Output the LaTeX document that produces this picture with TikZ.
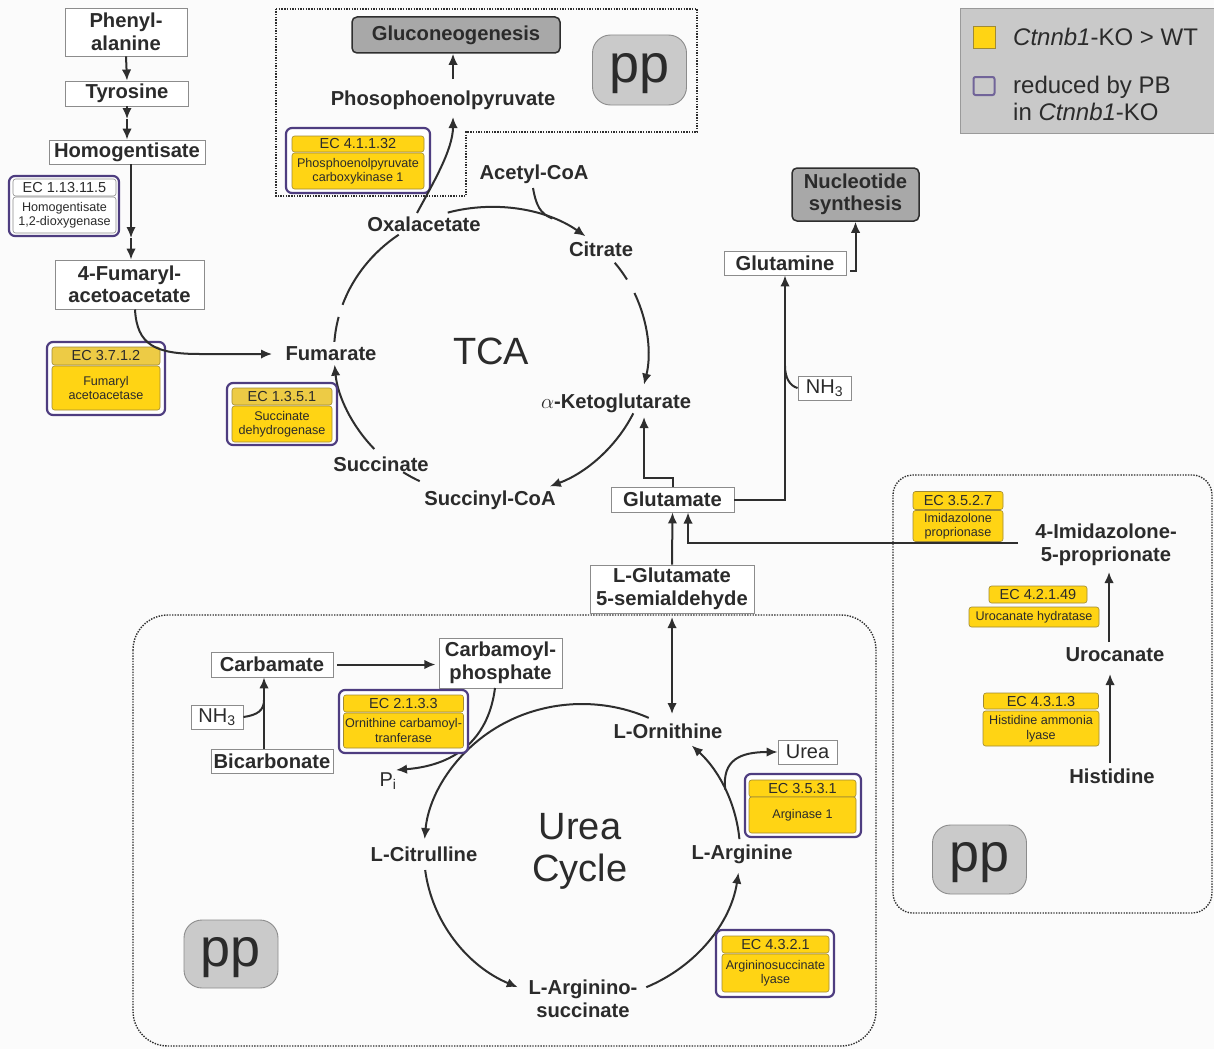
\documentclass[tikz,border=0pt]{standalone}
\usepackage{fontspec}
\setmainfont{Liberation Sans}
\usetikzlibrary{arrows.meta,calc}
\definecolor{txt}{HTML}{2B2B2B}
\definecolor{lnc}{HTML}{2E2E2E}
\definecolor{bx}{HTML}{8C8C8C}
\definecolor{yel}{HTML}{FFD414}
\definecolor{yelh}{HTML}{EDCB45}
\definecolor{ybd}{HTML}{A08A35}
\definecolor{pur}{HTML}{4E3D80}
\definecolor{gry}{HTML}{A8A8A8}
\definecolor{ppg}{HTML}{CACACA}
\definecolor{leg}{HTML}{C9C9C9}
\definecolor{legbd}{HTML}{9A9A9A}
\definecolor{bgc}{HTML}{FBFBFB}
\begin{document}
\begin{tikzpicture}[x=1pt,y=1pt,
 met/.style={font=\fontsize{20.2}{22.5}\selectfont\bfseries, text=txt, align=center, inner sep=0pt},
 mbox/.style={met, draw=bx, line width=0.9pt, fill=white},
 gbox/.style={met, draw=lnc, line width=1.5pt, fill=gry, rounded corners=5pt},
 ppbox/.style={draw=bx, line width=0.9pt, fill=ppg, rounded corners=18pt, font=\fontsize{54}{54}\selectfont, text=txt, inner sep=0pt, minimum width=94pt, text height=40pt, text depth=16pt},
 big/.style={font=\fontsize{38}{42}\selectfont, text=txt, align=center, inner sep=0pt},
 reg/.style={font=\fontsize{20}{22}\selectfont, text=txt, inner sep=0pt},
 regbox/.style={reg, draw=bx, line width=0.9pt, fill=white},
 legt/.style={font=\fontsize{24}{27}\selectfont, text=txt, inner sep=0pt},
 arr/.style={draw=lnc, line width=2pt, -{Latex[length=11pt,width=9.5pt]}},
 dbl/.style={draw=lnc, line width=2pt, {Latex[length=11pt,width=9.5pt]}-{Latex[length=11pt,width=9.5pt]}},
 plain/.style={draw=lnc, line width=2pt},
 dotbox/.style={draw=lnc, line width=1.4pt, dash pattern=on 1.4pt off 1.3pt},
 ecout/.style={draw=pur, line width=2.2pt, rounded corners=6pt, fill=white, inner sep=0pt},
 echd/.style={draw=ybd, line width=0.6pt, fill=yel, rounded corners=2.5pt, inner sep=0pt, font=\fontsize{14.5}{15}\selectfont, text=txt},
 echm/.style={echd, fill=yelh},
 ecbd/.style={echd, font=\fontsize{12.6}{14.5}\selectfont, align=center},
 echw/.style={echd, draw=bx, fill=white},
 ecbw/.style={ecbd, draw=bx, fill=white}
]
\useasboundingbox (0,0) rectangle (1214,-1049);
\fill[bgc] (0,0) rectangle (1214,-1049);

% ---------- dotted regions ----------
\draw[dotbox] (276,-9) -- (697,-9) -- (697,-132) -- (466,-132) -- (466,-196) -- (276,-196) -- cycle;
\draw[dotbox, rounded corners=20pt] (893,-475) rectangle (1212,-913);
\draw[dotbox, rounded corners=35pt] (133,-615) rectangle (876,-1046);

% ---------- legend ----------
\node[draw=legbd, fill=leg, line width=0.9pt, minimum width=256pt, minimum height=125pt, inner sep=0pt] (legend) at (1088,-70.5) {};
\node[draw=ybd, fill=yel, line width=0.8pt, minimum size=22pt, inner sep=0pt] (legy) at (984,-37.5) {};
\node[draw=pur!80, line width=2pt, rounded corners=2pt, minimum width=21pt, minimum height=18pt, inner sep=0pt] (legp) at (984,-86) {};
\node[legt, anchor=west] (legt1) at (1013,-37) {\textit{Ctnnb1}-KO > WT};
\node[legt, anchor=west, align=left] (legt2) at (1013,-98.5) {reduced by PB\\in \textit{Ctnnb1}-KO};

% ---------- pp boxes ----------
\node[ppbox, minimum height=70pt] (pp1) at (639.5,-70) {pp};
\node[ppbox, minimum height=69pt] (pp2) at (979.5,-859.5) {pp};
\node[ppbox, minimum height=68pt] (pp3) at (231,-954) {pp};

% ---------- left column ----------
\node[mbox, minimum width=122pt, minimum height=48pt] (phe) at (126,-32) {Phenyl-\\alanine};
\node[mbox, minimum width=123pt, minimum height=25pt] (tyr) at (127,-93.5) {Tyrosine};
\node[mbox, minimum width=156pt, minimum height=24pt] (hom) at (127,-152) {Homogentisate};
\node[mbox, minimum width=149pt, minimum height=49pt] (faa) at (129.5,-284.5) {4-Fumaryl-\\acetoacetate};

\draw[arr] (phe.south) -- (tyr.north);
\coordinate (c1) at (127,-119);
\draw[arr] (tyr.south) -- (c1);
\draw[arr] (c1) -- (hom.north);
\coordinate (c2) at (131,-238);
\draw[arr] (hom.south -| c2) -- (c2);
\draw[arr] (c2) -- (faa.north -| c2);

% EC 1.13.11.5
\node[ecout, minimum width=110pt, minimum height=60pt] (e1) at (64,-206) {};
\node[echw, minimum width=103pt, minimum height=17pt] (e1h) at (64.5,-187.5) {EC 1.13.11.5};
\node[ecbw, minimum width=103pt, minimum height=36pt] (e1b) at (64.5,-215) {Homogentisate\\1,2-dioxygenase};

% EC 3.7.1.2
\node[ecout, minimum width=118pt, minimum height=73pt] (e2) at (106,-378.5) {};
\node[echm, minimum width=108pt, minimum height=18pt] (e2h) at (106,-356) {EC 3.7.1.2};
\node[ecbd, minimum width=108pt, minimum height=44pt] (e2b) at (106,-388) {Fumaryl\\acetoacetase};

% ---------- top: gluconeogenesis ----------
\node[gbox, minimum width=208pt, minimum height=36pt] (glc) at (456,-35) {Gluconeogenesis};
\node[met] (pep) at (443,-100) {Phosophoenolpyruvate};
\coordinate (pepIn) at (453,-117);
\coordinate (pepOut) at (453,-79);
\draw[arr] (pepOut) -- (glc.south -| pepOut);

% EC 4.1.1.32
\node[ecout, minimum width=144pt, minimum height=65pt] (e3) at (358,-160.5) {};
\node[echd, minimum width=132pt, minimum height=16pt] (e3h) at (358,-144) {EC 4.1.1.32};
\node[ecbd, minimum width=132pt, minimum height=36pt] (e3b) at (358,-171) {Phosphoenolpyruvate\\carboxykinase 1};

% ---------- TCA ----------
\node[met] (acoa) at (534,-174) {Acetyl-CoA};
\node[met] (oxa) at (424,-224) {Oxalacetate};
\node[met] (cit) at (601,-249) {Citrate};
\node[met] (fum) at (331,-354) {Fumarate};
\node[met] (akg) at (616,-403) {$\alpha$-Ketoglutarate};
\node[met] (sucoa) at (490,-500) {Succinyl-CoA};
\node[met] (suc) at (381,-464) {Succinate};
\node[big] (tcalbl) at (491,-351) {TCA};

\coordinate (tca) at (491,-352);
\draw[arr] (tca) ++(106:157pt and 145pt) arc[start angle=106, end angle=53, x radius=157pt, y radius=145pt];
\draw[plain] (tca) ++(126:157pt and 145pt) arc[start angle=126, end angle=161, x radius=157pt, y radius=145pt];
\draw[plain] (tca) ++(166:157pt and 145pt) arc[start angle=166, end angle=176, x radius=157pt, y radius=145pt];
\draw[plain] (tca) ++(38:157pt and 145pt) arc[start angle=38, end angle=30, x radius=157pt, y radius=145pt];
\draw[arr] (tca) ++(24:157pt and 145pt) arc[start angle=24, end angle=-13, x radius=157pt, y radius=145pt];
\draw[arr] (tca) ++(-25:157pt and 145pt) arc[start angle=-25, end angle=-68, x radius=157pt, y radius=145pt];
\draw[plain] (tca) ++(-117:157pt and 145pt) arc[start angle=-117, end angle=-124, x radius=157pt, y radius=145pt];
\draw[arr] (tca) ++(-138:157pt and 145pt) arc[start angle=-138, end angle=-175, x radius=157pt, y radius=145pt];

% acetyl-CoA joining
\coordinate (acoaOut) at (533,-188);
\path (tca) ++(67:157pt and 145pt) coordinate (acoaJoin);
\draw[plain] (acoaOut) .. controls (536,-205) and (540,-213.8) .. (acoaJoin);

% oxalacetate to PEP
\coordinate (oxaOut) at (417,-213);
\draw[arr] (oxaOut) .. controls (432,-185) and (453,-150) .. (pepIn);

% fumarylacetoacetate to fumarate
\coordinate (faaOut) at (135,-309.5);
\coordinate (fumIn) at (272,-354);
\draw[arr] (faaOut) .. controls (137,-345) and (155,-354) .. (200,-354) -- (fumIn);

% EC 1.3.5.1
\node[ecout, minimum width=110pt, minimum height=62pt] (e4) at (282,-414) {};
\node[echm, minimum width=100pt, minimum height=17pt] (e4h) at (282,-396.5) {EC 1.3.5.1};
\node[ecbd, minimum width=100pt, minimum height=36pt] (e4b) at (282,-424) {Succinate\\dehydrogenase};

% ---------- glutamate / glutamine ----------
\node[gbox, minimum width=127pt, minimum height=53pt] (nuc) at (855.5,-194.5) {Nucleotide\\synthesis};
\node[mbox, minimum width=122pt, minimum height=24pt] (gln) at (785,-263) {Glutamine};
\node[regbox, minimum width=53pt, minimum height=24pt] (nh3a) at (824.5,-388) {NH\textsubscript{3}};
\node[mbox, minimum width=123pt, minimum height=25pt] (glu) at (672.5,-499.5) {Glutamate};
\node[mbox, minimum width=164pt, minimum height=48pt] (gsa) at (672,-589) {L-Glutamate\\5-semialdehyde};

\coordinate (glnOut) at (850,-271);
\draw[arr] (glnOut) -| (nuc.south);
\draw[arr] (glu.east) -| (gln.south);
\draw[plain] (nh3a.west) .. controls (790,-386) and (785,-378) .. (785,-366);
\coordinate (akgIn) at (644,-417);
\draw[arr] (glu.north) -- ++(0,9) -| (akgIn);
\draw[arr] (gsa.north) -- (glu.south);
\coordinate (imL) at (1018,-543);
\coordinate (gluIn) at (688,-512.5);
\draw[arr] (imL) -| (gluIn);

% ---------- histidine pathway ----------
\node[met] (imid) at (1106,-545) {4-Imidazolone-\\5-proprionate};
\node[met] (uro) at (1115,-655) {Urocanate};
\node[met] (his) at (1112,-776) {Histidine};
\coordinate (hisOut) at (1110,-763);
\coordinate (uroIn) at (1110,-674);
\draw[arr] (hisOut) -- (uroIn);
\coordinate (uroOut) at (1109,-642);
\coordinate (imidIn) at (1109,-572);
\draw[arr] (uroOut) -- (imidIn);

\node[echd, minimum width=90pt, minimum height=18pt] (e5h) at (958,-500.5) {EC 3.5.2.7};
\node[ecbd, minimum width=90pt, minimum height=31pt] (e5b) at (958,-526) {Imidazolone\\proprionase};
\node[echd, minimum width=98pt, minimum height=17pt] (e6h) at (1038,-594.5) {EC 4.2.1.49};
\node[ecbd, minimum width=130pt, minimum height=20pt] (e6b) at (1034,-617) {Urocanate hydratase};
\node[echd, minimum width=115pt, minimum height=16pt] (e7h) at (1041,-701) {EC 4.3.1.3};
\node[ecbd, minimum width=116pt, minimum height=35pt] (e7b) at (1041,-728.5) {Histidine ammonia\\lyase};

% ---------- urea cycle ----------
\node[mbox, minimum width=122pt, minimum height=25pt] (carb) at (272,-664.5) {Carbamate};
\node[mbox, minimum width=123pt, minimum height=50pt] (carbp) at (500.5,-663) {Carbamoyl-\\phosphate};
\node[regbox, minimum width=52pt, minimum height=24pt] (nh3b) at (217,-717) {NH\textsubscript{3}};
\node[mbox, minimum width=122pt, minimum height=24pt] (bic) at (272,-761) {Bicarbonate};
\node[reg] (pi) at (388,-781) {P\textsubscript{i}};
\node[regbox, minimum width=59pt, minimum height=24pt] (urea) at (807.5,-752) {Urea};

\draw[arr] ([xshift=4pt]carb.east) -- ++(98,0);
\coordinate (bcx) at (264,-749);
\draw[arr] (bcx) -- (bcx |- carb.south);
\draw[plain] (nh3b.east) .. controls (258,-715) and (264,-710) .. (264,-700);

\node[met] (orn) at (668,-731) {L-Ornithine};
\node[met] (citr) at (424,-854) {L-Citrulline};
\node[met] (arg) at (742,-854) {L-Arginine};
\node[met] (asuc) at (583,-999) {L-Arginino-\\succinate};
\node[big] (ucl) at (580,-851) {Urea\\Cycle};

\coordinate (ucc) at (582,-852);
\draw[arr] (ucc) ++(65:158pt and 148pt) arc[start angle=65, end angle=175, x radius=158pt, y radius=148pt];
\draw[arr] (ucc) ++(187:158pt and 148pt) arc[start angle=187, end angle=246, x radius=158pt, y radius=148pt];
\draw[arr] (ucc) ++(-66:158pt and 148pt) arc[start angle=-66, end angle=-8, x radius=158pt, y radius=148pt];
\draw[arr] (ucc) ++(5:158pt and 148pt) arc[start angle=5, end angle=46, x radius=158pt, y radius=148pt];
\path (ucc) ++(25:158pt and 148pt) coordinate (ub);
\draw[arr] (ub) .. controls (722,-760) and (740,-752) .. (urea.west);

\coordinate (cps) at (495,-688);
\coordinate (piIn) at (396,-770);
\draw[arr] (cps) .. controls (489,-735) and (460,-765) .. (piIn);

\coordinate (ornTop) at (672,-714);
\coordinate (gsaBot) at (672,-617);
\draw[dbl] (gsaBot) -- (ornTop);

% EC 2.1.3.3
\node[ecout, minimum width=129pt, minimum height=63pt] (e8) at (403.5,-721.5) {};
\node[echd, minimum width=120pt, minimum height=17pt] (e8h) at (403.5,-703.5) {EC 2.1.3.3};
\node[ecbd, minimum width=120pt, minimum height=35pt] (e8b) at (403.5,-730.5) {Ornithine carbamoyl-\\tranferase};

% EC 3.5.3.1
\node[ecout, minimum width=116pt, minimum height=63pt] (e9) at (803,-805.5) {};
\node[echd, minimum width=107pt, minimum height=17pt] (e9h) at (802.5,-788.5) {EC 3.5.3.1};
\node[ecbd, minimum width=107pt, minimum height=36pt] (e9b) at (802.5,-815) {Arginase 1};

% EC 4.3.2.1
\node[ecout, minimum width=118pt, minimum height=67pt] (e10) at (775,-963.5) {};
\node[echd, minimum width=107pt, minimum height=17pt] (e10h) at (775.5,-944.5) {EC 4.3.2.1};
\node[ecbd, minimum width=107pt, minimum height=38pt] (e10b) at (775.5,-973) {Argininosuccinate\\lyase};
\end{tikzpicture}
\end{document}
